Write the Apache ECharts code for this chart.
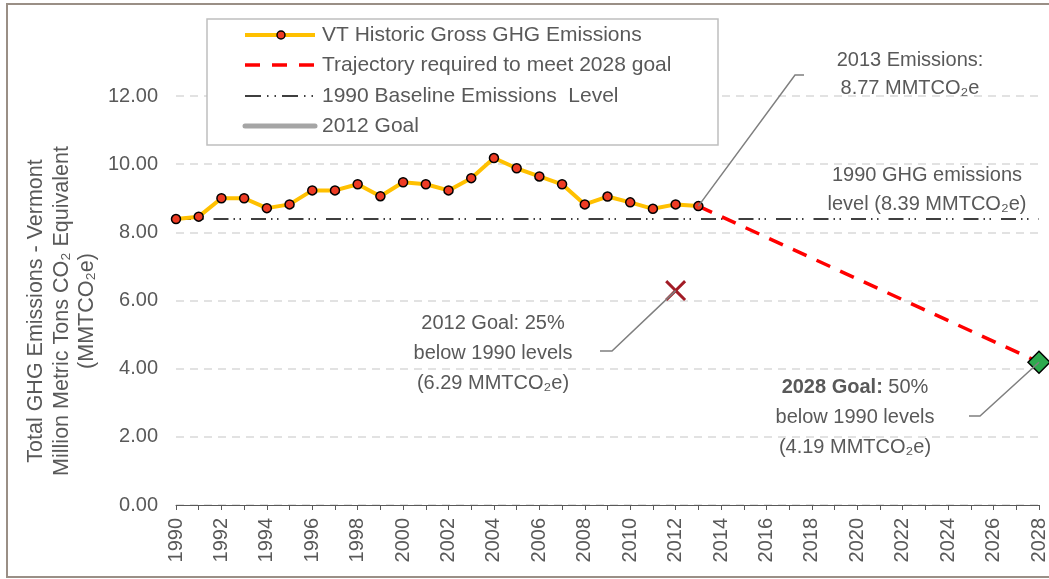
<!DOCTYPE html>
<html>
<head>
<meta charset="utf-8">
<title>Vermont GHG emissions</title>
<script src="https://cdn.jsdelivr.net/npm/echarts@6/dist/echarts.min.js"></script>
<style>
  html, body { margin: 0; padding: 0; background: #fff; }
  #chart { width: 1049px; height: 579px; }
</style>
</head>
<body>
<div id="chart"></div>
<script>
  // historic gross emissions (MMTCO2e)
  const historicYears = [1990, 1991, 1992, 1993, 1994, 1995, 1996, 1997, 1998, 1999, 2000, 2001,
    2002, 2003, 2004, 2005, 2006, 2007, 2008, 2009, 2010, 2011, 2012, 2013];
  const historicValues = [8.39, 8.46, 9.00, 9.00, 8.71, 8.82, 9.23, 9.23, 9.41, 9.06, 9.47, 9.41,
    9.23, 9.59, 10.18, 9.88, 9.64, 9.41, 8.82, 9.05, 8.88, 8.69, 8.82, 8.77];

  // trajectory to the 2028 goal
  const trajectoryYears = [2013, 2028];
  const trajectoryValues = [8.77, 4.19];

  // 1990 baseline level
  const baselineYears = [1990, 2028];
  const baselineValues = [8.39, 8.39];

  const goal2012 = [2012, 6.29];
  const goal2028 = [2028, 4.19];

  const seriesNames = [
    'VT Historic Gross GHG Emissions',
    'Trajectory required to meet 2028 goal',
    '1990 Baseline Emissions  Level',
    '2012 Goal',
  ];

  const TEXT = '#595959';
  const FONT = 'Liberation Sans';

  const BASELINE_DASH = [15, 5, 1.5, 4.5, 1.5, 10];
  const TRAJ_DASH = [15, 11];

  const zip = (xs, ys) => xs.map((x, i) => [x, ys[i]]);

  const chart = echarts.init(document.getElementById('chart'));

  const option = {
    animation: false,
    textStyle: { fontFamily: FONT },
    grid: { left: 176, right: 9, top: 96, bottom: 74 },
    xAxis: {
      type: 'value',
      min: 1990,
      max: 2028,
      interval: 1,
      splitLine: { show: false },
      axisLine: { lineStyle: { color: '#595959', width: 1 } },
      axisTick: { length: 5, lineStyle: { color: '#595959' } },
      axisLabel: {
        rotate: 90,
        fontSize: 20,
        color: TEXT,
        margin: 13,
        formatter: (v) => (v % 2 === 0 ? String(v) : ''),
      },
    },
    yAxis: {
      type: 'value',
      min: 0,
      max: 12,
      interval: 2,
      axisLine: { show: false },
      axisTick: { show: false },
      axisLabel: {
        fontSize: 20,
        color: TEXT,
        margin: 18,
        formatter: (v) => v.toFixed(2),
      },
      splitLine: { lineStyle: { color: '#D9D9D9', width: 1.5, type: [8, 6] } },
    },
    legend: { show: false },
    series: [
      {
        name: seriesNames[2],
        type: 'line',
        data: zip(baselineYears, baselineValues),
        symbol: 'none',
        lineStyle: { color: '#000', width: 1.5, type: BASELINE_DASH },
        z: 2,
      },
      {
        name: seriesNames[1],
        type: 'line',
        data: zip(trajectoryYears, trajectoryValues),
        symbol: 'none',
        lineStyle: { color: '#FF0000', width: 3.5, type: TRAJ_DASH },
        z: 3,
      },
      {
        name: seriesNames[0],
        type: 'line',
        data: zip(historicYears, historicValues),
        symbol: 'circle',
        symbolSize: 9,
        lineStyle: { color: '#FFC000', width: 4 },
        itemStyle: { color: '#EE3B24', borderColor: '#000', borderWidth: 1.5 },
        z: 4,
      },
      {
        name: 'goal2012',
        type: 'scatter',
        data: [goal2012],
        symbol: 'path://M0,2 L2,0 L10,8 L18,0 L20,2 L12,10 L20,18 L18,20 L10,12 L2,20 L0,18 L8,10 Z',
        symbolSize: 21,
        itemStyle: { color: '#A21C26', opacity: 1 },
        z: 5,
      },
      {
        name: 'goal2028',
        type: 'scatter',
        data: [goal2028],
        symbol: 'diamond',
        symbolSize: 22,
        itemStyle: { color: '#2DAA4E', borderColor: '#000', borderWidth: 1.5, opacity: 1 },
        z: 6,
      },
    ],
  };

  chart.setOption(option);

  // leader lines follow the data points
  const p2013 = chart.convertToPixel({ gridIndex: 0 }, [2013, 8.77]);
  const pGoal12 = chart.convertToPixel({ gridIndex: 0 }, goal2012);
  const pGoal28 = chart.convertToPixel({ gridIndex: 0 }, goal2028);

  const leader = (points) => ({
    type: 'polyline',
    shape: { points },
    style: { stroke: '#7F7F7F', lineWidth: 1.5, fill: null },
    z: 8,
  });

  const label = (x, y, text, lineHeight, extra) => ({
    type: 'text',
    x,
    y,
    z: 9,
    style: Object.assign({
      text,
      fill: TEXT,
      fontSize: 20,
      fontFamily: FONT,
      align: 'center',
      verticalAlign: 'top',
      lineHeight,
    }, extra || {}),
  });

  // hand-drawn legend (Excel style)
  const legendRows = [35, 65, 96, 126];
  const legendLine = (y, style) => ({
    type: 'line',
    shape: { x1: 245, y1: y, x2: 315, y2: y },
    style: Object.assign({ fill: null }, style),
    z: 9,
  });
  const legendText = (y, text) => ({
    type: 'text',
    x: 322,
    y,
    z: 9,
    style: { text, fill: TEXT, fontSize: 21, fontFamily: FONT, verticalAlign: 'middle' },
  });

  chart.setOption({
    graphic: [
      // chart frame
      {
        type: 'rect',
        shape: { x: 7, y: 4, width: 1060, height: 573 },
        style: { stroke: '#9A8F86', lineWidth: 2, fill: null },
        z: 1,
      },
      // legend box
      {
        type: 'rect',
        shape: { x: 207, y: 19, width: 511, height: 126 },
        style: { stroke: '#BFBFBF', lineWidth: 1.5, fill: '#fff' },
        z: 7,
      },
      legendLine(legendRows[0], { stroke: '#FFC000', lineWidth: 4 }),
      {
        type: 'circle',
        shape: { cx: 281, cy: legendRows[0], r: 4 },
        style: { fill: '#EE3B24', stroke: '#000', lineWidth: 1.5 },
        z: 10,
      },
      legendText(legendRows[0], seriesNames[0]),
      legendLine(legendRows[1], { stroke: '#FF0000', lineWidth: 3.5, lineDash: [15, 12] }),
      legendText(legendRows[1], seriesNames[1]),
      legendLine(legendRows[2], { stroke: '#000', lineWidth: 1.5, lineDash: [16, 6, 1.5, 6, 1.5, 6] }),
      legendText(legendRows[2], seriesNames[2]),
      legendLine(legendRows[3], { stroke: '#A5A5A5', lineWidth: 5, lineCap: 'round' }),
      legendText(legendRows[3], seriesNames[3]),
      // axis title
      {
        type: 'text',
        x: 62,
        y: 311,
        rotation: Math.PI / 2,
        z: 9,
        style: {
          text: 'Total GHG Emissions - Vermont\nMillion Metric Tons CO₂ Equivalent\n(MMTCO₂e)',
          fill: TEXT,
          fontSize: 21.5,
          fontFamily: FONT,
          align: 'center',
          verticalAlign: 'middle',
          lineHeight: 25.5,
        },
      },
      leader([p2013, [795, 75], [804, 75]]),
      label(910, 46, '2013 Emissions:\n8.77 MMTCO₂e', 28),
      label(927, 161, '1990 GHG emissions\nlevel (8.39 MMTCO₂e)', 29),
      leader([pGoal12, [612, 351], [600, 351]]),
      label(493, 308, '2012 Goal: 25%\nbelow 1990 levels\n(6.29 MMTCO₂e)', 30),
      leader([pGoal28, [980, 416], [969, 416]]),
      label(855, 372, '{b|2028 Goal:} 50%\nbelow 1990 levels\n(4.19 MMTCO₂e)', 30, {
        rich: { b: { fontWeight: 'bold', fontSize: 20, fontFamily: FONT, fill: TEXT, lineHeight: 30 } },
      }),
    ],
  });
</script>
</body>
</html>
